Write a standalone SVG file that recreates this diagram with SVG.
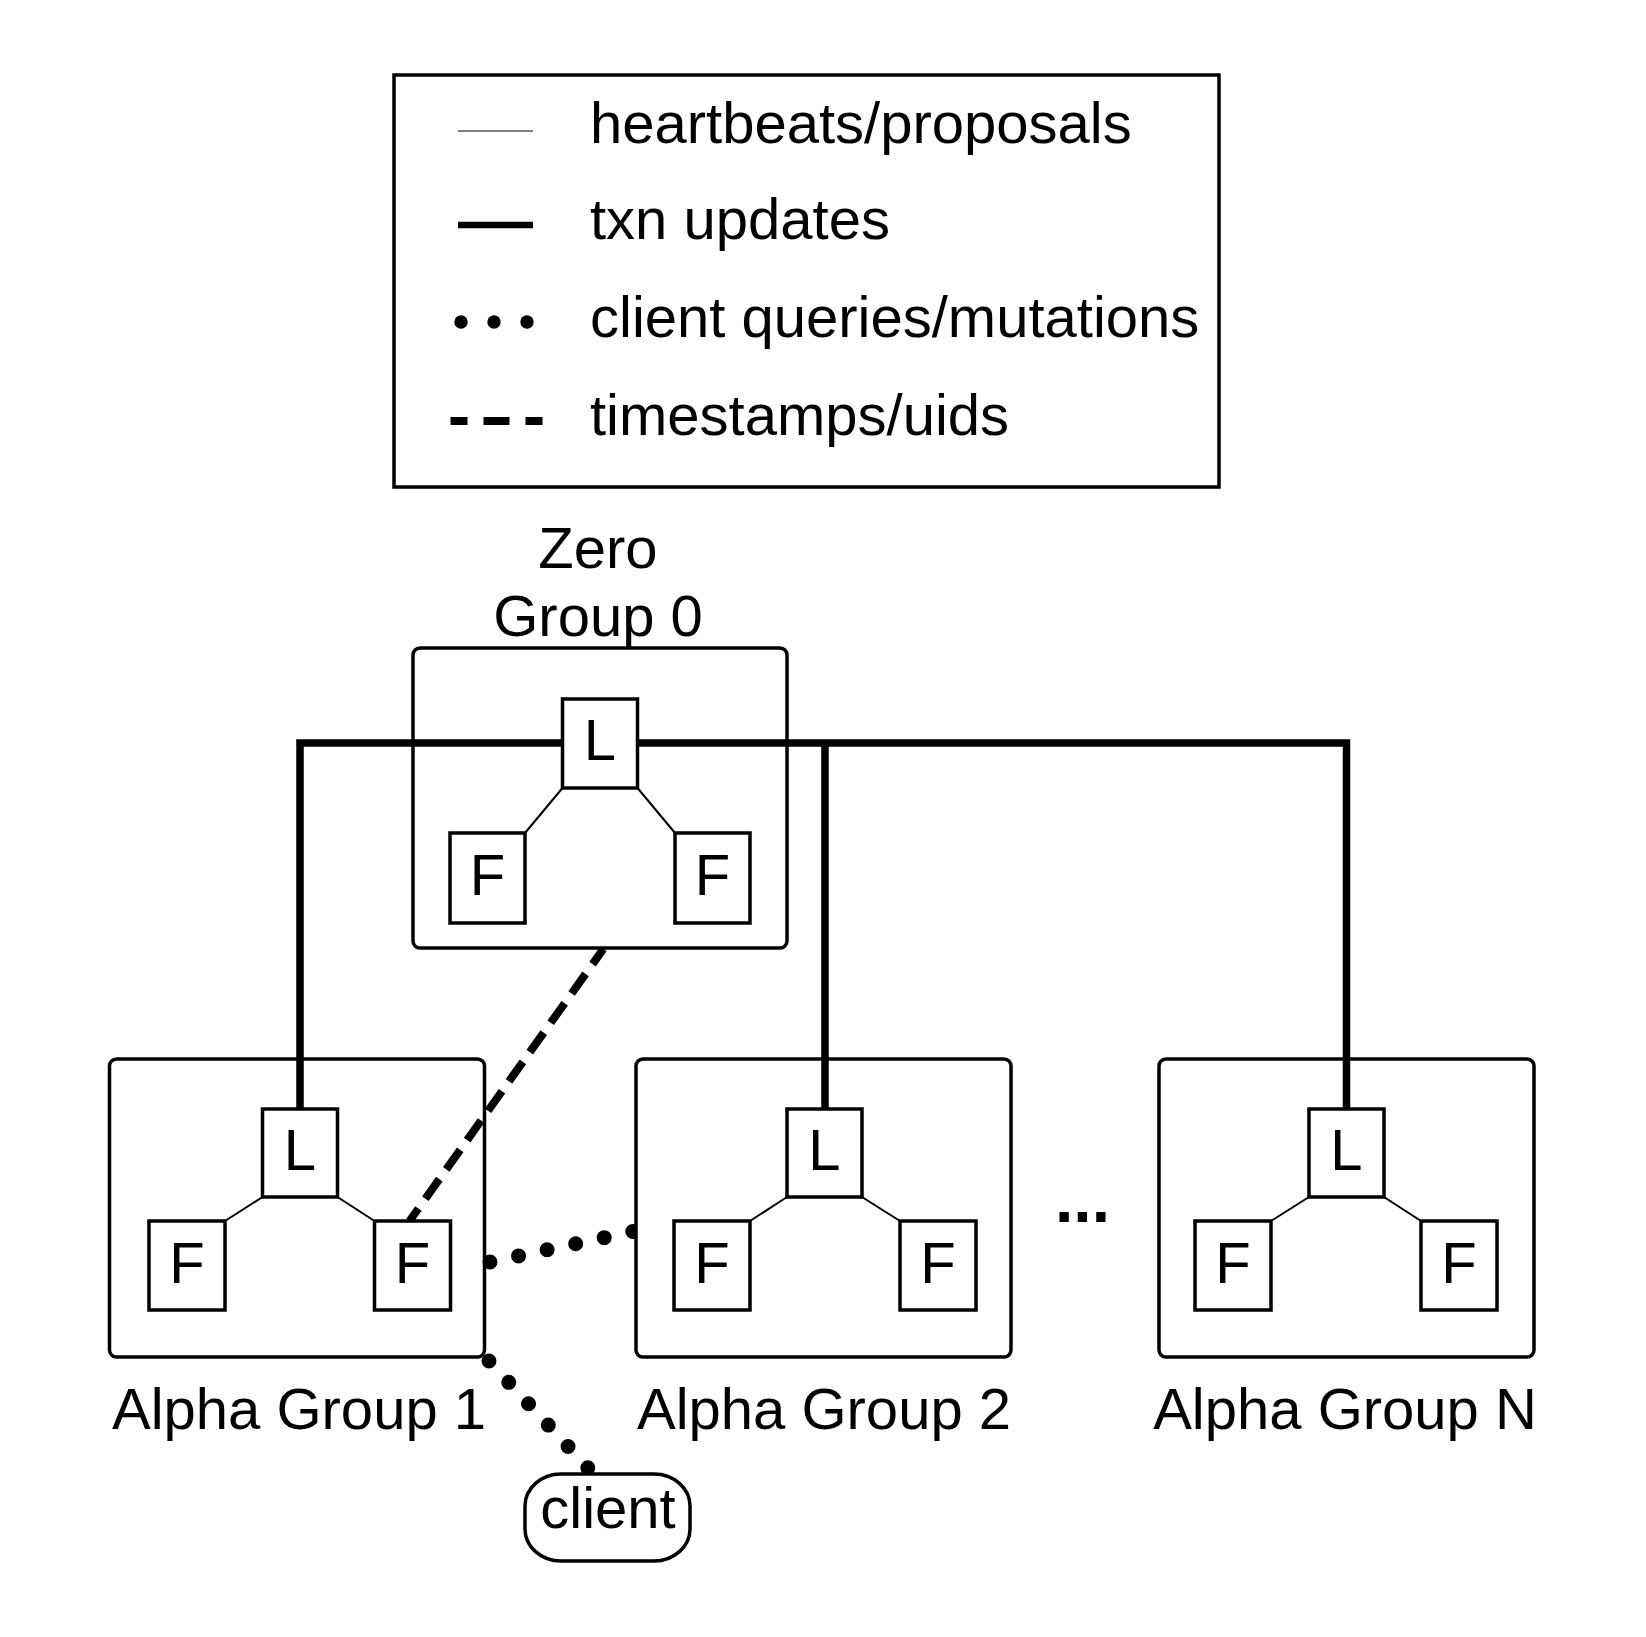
<svg xmlns="http://www.w3.org/2000/svg" width="1646" height="1637" viewBox="0 0 1646 1637">
<style>
text{font-family:"Liberation Sans",Arial,sans-serif;font-size:58px;fill:#000}
.c{text-anchor:middle}
.grp{fill:#fff;stroke:#000;stroke-width:3.5}
.box{fill:#fff;stroke:#000;stroke-width:3.5}
.thin{stroke:#000;stroke-width:2;fill:none}
.thick{stroke:#000;stroke-width:7.5;fill:none;stroke-linejoin:miter;stroke-linecap:butt}
.dash{stroke:#000;stroke-width:8;fill:none;stroke-dasharray:24 12;stroke-dashoffset:5.4}
.dot{stroke:#000;stroke-width:15;fill:none;stroke-linecap:round}
</style>
<defs>
<clipPath id="clipA2"><rect x="0" y="0" width="636" height="1637"/></clipPath>
</defs>
<rect width="1646" height="1637" fill="#fff"/>

<g id="legend">
<rect x="394" y="75" width="825" height="412" fill="none" stroke="#000" stroke-width="3.5"/>
<line x1="458" y1="131" x2="533" y2="131" stroke="#000" stroke-width="1.2"/>
<line x1="458" y1="225" x2="533" y2="225" stroke="#000" stroke-width="6.7"/>
<circle cx="461" cy="322" r="6.7"/>
<circle cx="494" cy="322" r="6.7"/>
<circle cx="527" cy="322" r="6.7"/>
<line x1="450.5" y1="421" x2="542.5" y2="421" stroke="#000" stroke-width="8" stroke-dasharray="17 16 26 16 17"/>
<text x="590" y="143">heartbeats/proposals</text>
<text x="590" y="239">txn updates</text>
<text x="590" y="337">client queries/mutations</text>
<text x="590" y="435">timestamps/uids</text>
</g>

<g id="zero-group">
<rect class="grp" x="413" y="648" width="374" height="300" rx="7"/>
<text class="c" x="598" y="568">Zero</text>
<text class="c" x="598" y="636">Group 0</text>
</g>
<g id="alpha-group-1">
<rect class="grp" x="109.5" y="1059" width="375" height="298" rx="7"/>
<text class="c" x="299" y="1429">Alpha Group 1</text>
</g>
<g id="alpha-group-2">
<rect class="grp" x="636" y="1059" width="375" height="298" rx="7"/>
<text class="c" x="824" y="1429">Alpha Group 2</text>
</g>
<g id="alpha-group-n">
<rect class="grp" x="1159" y="1059" width="375" height="298" rx="7"/>
<text class="c" x="1345" y="1429">Alpha Group N</text>
</g>
<g id="ellipsis">
<text x="1055" y="1222" style="font-size:66px;font-weight:bold">...</text>
</g>

<g id="connectors">
<path class="thick" d="M300,1109 V743 H1346.5 V1109 M825,743 V1109"/>
<line class="thin" x1="562.5" y1="788" x2="525" y2="833"/>
<line class="thin" x1="637.5" y1="788" x2="675" y2="833"/>
<line class="thin" x1="262.5" y1="1197" x2="225" y2="1221"/>
<line class="thin" x1="337.5" y1="1197" x2="374.5" y2="1221"/>
<line class="thin" x1="787" y1="1197" x2="750" y2="1221"/>
<line class="thin" x1="862" y1="1197" x2="900" y2="1221"/>
<line class="thin" x1="1309" y1="1197" x2="1271" y2="1221"/>
<line class="thin" x1="1384" y1="1197" x2="1421" y2="1221"/>
<line class="dash" x1="603.3" y1="949" x2="409.5" y2="1221"/>
<line class="dot" x1="490" y1="1262" x2="633" y2="1231.5" stroke-dasharray="0 29.2" clip-path="url(#clipA2)"/>
<line class="dot" x1="489" y1="1361" x2="588" y2="1468" stroke-dasharray="0 29.1"/>
</g>

<g id="zero-L"><rect class="box" x="562.5" y="699" width="75" height="89"/><text class="c" x="600" y="760">L</text></g>
<g id="zero-F1"><rect class="box" x="450" y="833" width="75" height="90"/><text class="c" x="487.5" y="895">F</text></g>
<g id="zero-F2"><rect class="box" x="675" y="833" width="75" height="90"/><text class="c" x="712.5" y="895">F</text></g>

<g id="a1-L"><rect class="box" x="262.5" y="1109" width="75" height="88"/><text class="c" x="300" y="1170">L</text></g>
<g id="a1-F1"><rect class="box" x="149" y="1221" width="76" height="89"/><text class="c" x="187" y="1283">F</text></g>
<g id="a1-F2"><rect class="box" x="374.5" y="1221" width="76" height="89"/><text class="c" x="412.5" y="1283">F</text></g>

<g id="a2-L"><rect class="box" x="787" y="1109" width="75" height="88"/><text class="c" x="824.5" y="1170">L</text></g>
<g id="a2-F1"><rect class="box" x="674" y="1221" width="76" height="89"/><text class="c" x="712" y="1283">F</text></g>
<g id="a2-F2"><rect class="box" x="900" y="1221" width="76" height="89"/><text class="c" x="938" y="1283">F</text></g>

<g id="aN-L"><rect class="box" x="1309" y="1109" width="75" height="88"/><text class="c" x="1346.5" y="1170">L</text></g>
<g id="aN-F1"><rect class="box" x="1195" y="1221" width="76" height="89"/><text class="c" x="1233" y="1283">F</text></g>
<g id="aN-F2"><rect class="box" x="1421" y="1221" width="76" height="89"/><text class="c" x="1459" y="1283">F</text></g>

<g id="client">
<rect class="box" x="525" y="1474" width="165" height="87" rx="36" ry="32"/>
<text class="c" x="608" y="1528">client</text>
</g>
</svg>
